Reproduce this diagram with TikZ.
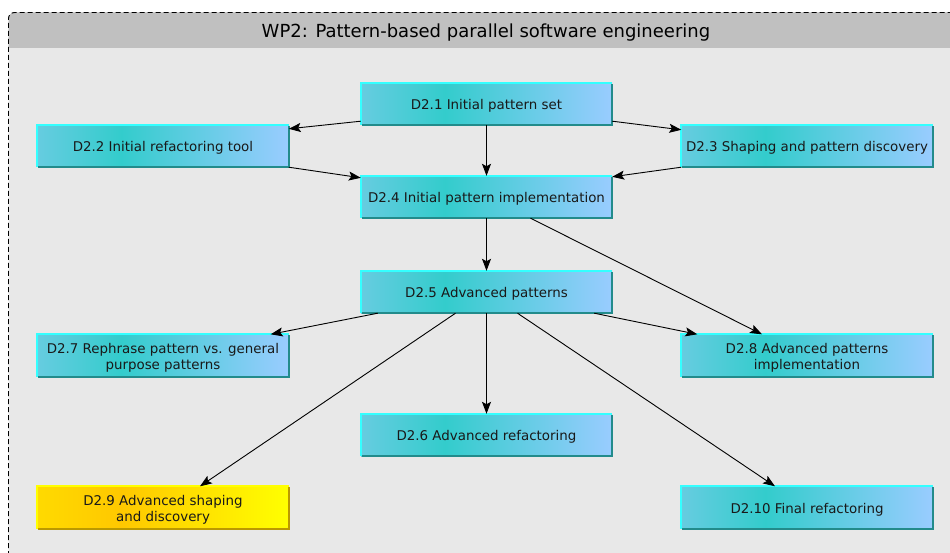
\documentclass[tikz,border=0pt]{standalone}
\usepackage{fontspec}
\setmainfont{DejaVu Sans}
\usetikzlibrary{arrows.meta}
\definecolor{bL}{HTML}{66CCE0}
\definecolor{bM}{HTML}{33CCCC}
\definecolor{bR}{HTML}{99CCFF}
\definecolor{bTop}{HTML}{33FFFF}
\definecolor{bBot}{HTML}{228B8B}
\definecolor{yL}{HTML}{FFDA00}
\definecolor{yM}{HTML}{FFC800}
\definecolor{yR}{HTML}{FFFF00}
\definecolor{yTop}{HTML}{FFFF00}
\definecolor{yBot}{HTML}{BB9900}
\definecolor{headgray}{HTML}{C0C0C0}
\definecolor{bodygray}{HTML}{E8E8E8}
\pgfdeclarehorizontalshading{blueshade}{100bp}{color(0bp)=(bL); color(25bp)=(bL); color(41.7bp)=(bM); color(75bp)=(bR); color(100bp)=(bR)}
\pgfdeclarehorizontalshading{yellowshade}{100bp}{color(0bp)=(yL); color(25bp)=(yL); color(41.7bp)=(yM); color(75bp)=(yR); color(100bp)=(yR)}
\tikzset{
  dbox/.style={minimum width=251pt, minimum height=42pt, inner sep=0pt, align=center,
    font=\fontsize{13.4}{16}\selectfont, text=black!90, shade, shading=blueshade,
    text height=14pt},
  dboxtwo/.style={dbox, text height=30pt},
  ybox/.style={dboxtwo, shading=yellowshade},
  conn/.style={-{Stealth[length=12pt,width=9pt,inset=2.5pt]}, line width=0.9pt},
  hiedge/.style={line width=1.8pt},
}
\begin{document}
\begin{tikzpicture}[x=1pt,y=-1pt]
\useasboundingbox (0,0) rectangle (950,553);
\clip (0,0) rectangle (950,553);
\fill[white] (0,0) rectangle (950,553);
% container
\fill[bodygray, rounded corners=6pt] (8.5,12.5) rectangle (970,580);
\fill[headgray] (8.5,48) {[rounded corners=6pt] -- (8.5,12.5) -- (970,12.5)} -- (970,48) -- cycle;
\draw[dash pattern=on 5pt off 3pt, line width=0.9pt, rounded corners=6pt] (8.5,580) -- (8.5,12.5) -- (970,12.5);
\node (title) at (486,32.5) {\fontsize{18}{21}\selectfont WP2: Pattern-based parallel software engineering};
% boxes
\node[dbox] (d21) at (486.5,104) {D2.1 Initial pattern set};
\node[dbox] (d22) at (163,146) {D2.2 Initial refactoring tool};
\node[dbox] (d23) at (807,146) {D2.3 Shaping and pattern discovery};
\node[dbox] (d24) at (486.5,197) {D2.4 Initial pattern implementation};
\node[dbox] (d25) at (486.5,292) {D2.5 Advanced patterns};
\node[dboxtwo] (d27) at (163,355.5) {D2.7 Rephrase pattern vs. general\\purpose patterns};
\node[dboxtwo] (d28) at (807,355.5) {D2.8 Advanced patterns\\implementation};
\node[dbox] (d26) at (486.5,435) {D2.6 Advanced refactoring};
\node[ybox] (d29) at (163,507.5) {D2.9 Advanced shaping\\and discovery};
\node[dbox] (d210) at (807,507.5) {D2.10 Final refactoring};
\foreach \n in {d21,d22,d23,d24,d25,d27,d28,d26,d210}{
  \draw[hiedge, bTop] (\n.south west) -- (\n.north west) -- (\n.north east);
  \draw[hiedge, bBot] ([xshift=0.9pt]\n.south west) -- (\n.south east) -- ([yshift=-0.9pt]\n.north east);
}
\draw[hiedge, yTop] (d29.south west) -- (d29.north west) -- (d29.north east);
\draw[hiedge, yBot] ([xshift=0.9pt]d29.south west) -- (d29.south east) -- ([yshift=-0.9pt]d29.north east);
% connectors
\draw[conn] ([yshift=4pt]d21.south west) -- ([yshift=-4pt]d22.north east);
\draw[conn] ([yshift=4pt]d21.south east) -- ([yshift=-5pt]d23.north west);
\draw[conn] (d21.south) -- (d24.north);
\draw[conn] (d22.south east) -- ([yshift=-2pt]d24.north west);
\draw[conn] (d23.south west) -- ([yshift=-1pt]d24.north east);
\draw[conn] (d24.south) -- (d25.north);
\draw[conn] ([xshift=44pt]d24.south) -- ([xshift=-45pt]d28.north);
\draw[conn] ([xshift=17pt]d25.south west) -- ([xshift=-18pt]d27.north east);
\draw[conn] ([xshift=-18pt]d25.south east) -- ([xshift=16pt]d28.north west);
\draw[conn] (d25.south) -- (d26.north);
\draw[conn] ([xshift=-31pt]d25.south) -- ([xshift=37pt]d29.north);
\draw[conn] ([xshift=31pt]d25.south) -- ([xshift=-32pt]d210.north);
\end{tikzpicture}
\end{document}
